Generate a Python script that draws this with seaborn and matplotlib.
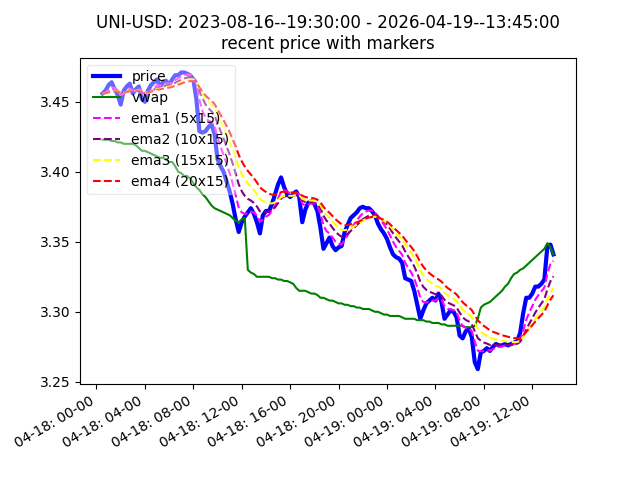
import numpy as np
import pandas as pd
import matplotlib
matplotlib.use("Agg")
import matplotlib.pyplot as plt
import matplotlib.dates as mdates
import seaborn as sns

# 15-minute bars, 04-18 00:30 .. 04-19 13:45
start_time = "2026-04-18 00:30"
n_bars = 150

price = [
    3.456, 3.458, 3.462, 3.464, 3.459, 3.455, 3.448, 3.458, 3.461, 3.463,
    3.456, 3.459, 3.461, 3.452, 3.450, 3.458, 3.462, 3.464, 3.466, 3.461,
    3.464, 3.465, 3.462, 3.466, 3.469, 3.469, 3.471, 3.471, 3.470, 3.469,
    3.466, 3.452, 3.429, 3.428, 3.429, 3.432, 3.434, 3.427, 3.409, 3.404,
    3.400, 3.393, 3.386, 3.377, 3.366, 3.357, 3.364, 3.368, 3.371, 3.374,
    3.370, 3.364, 3.356, 3.369, 3.372, 3.372, 3.377, 3.384, 3.391, 3.396,
    3.389, 3.384, 3.382, 3.384, 3.386, 3.382, 3.364, 3.373, 3.378, 3.379,
    3.377, 3.372, 3.360, 3.345, 3.349, 3.353, 3.347, 3.344, 3.346, 3.347,
    3.357, 3.362, 3.367, 3.369, 3.371, 3.374, 3.375, 3.374, 3.374, 3.372,
    3.369, 3.363, 3.359, 3.356, 3.352, 3.346, 3.341, 3.339, 3.338, 3.335,
    3.324, 3.323, 3.322, 3.315, 3.305, 3.295, 3.301, 3.306, 3.308, 3.310,
    3.308, 3.313, 3.307, 3.295, 3.298, 3.301, 3.300, 3.296, 3.283, 3.281,
    3.286, 3.288, 3.282, 3.264, 3.259, 3.271, 3.272, 3.274, 3.272, 3.275,
    3.277, 3.276, 3.276, 3.277, 3.276, 3.277, 3.278, 3.279, 3.285, 3.299,
    3.310, 3.310, 3.313, 3.318, 3.318, 3.320, 3.323, 3.347, 3.348, 3.341,
]

vwap = [
    3.423, 3.423, 3.423, 3.422, 3.422, 3.421, 3.421, 3.420, 3.420, 3.420, 3.420, 3.419,
    3.417, 3.415, 3.415, 3.414, 3.413, 3.412, 3.411, 3.410, 3.410, 3.409, 3.407, 3.407,
    3.404, 3.400, 3.399, 3.397, 3.397, 3.395, 3.392, 3.389, 3.387, 3.384, 3.382, 3.379,
    3.376, 3.374, 3.373, 3.372, 3.371, 3.370, 3.369, 3.367, 3.365, 3.364, 3.366, 3.367,
    3.330, 3.328, 3.327, 3.325, 3.325, 3.325, 3.325, 3.325, 3.324, 3.324, 3.323, 3.323,
    3.322, 3.322, 3.321, 3.320, 3.317, 3.315, 3.315, 3.315, 3.314, 3.313, 3.313, 3.312,
    3.310, 3.310, 3.309, 3.308, 3.308, 3.307, 3.306, 3.306, 3.305, 3.305, 3.304, 3.304,
    3.303, 3.303, 3.302, 3.302, 3.302, 3.301, 3.300, 3.300, 3.299, 3.298, 3.298, 3.297,
    3.297, 3.297, 3.297, 3.296, 3.295, 3.295, 3.295, 3.295, 3.294, 3.294, 3.294, 3.293,
    3.293, 3.292, 3.292, 3.292, 3.291, 3.291, 3.290, 3.290, 3.290, 3.290, 3.290, 3.290,
    3.289, 3.289, 3.289, 3.290, 3.295, 3.303, 3.305, 3.306, 3.307, 3.309, 3.311, 3.313,
    3.315, 3.318, 3.320, 3.324, 3.327, 3.328, 3.330, 3.331, 3.333, 3.335, 3.337, 3.339,
    3.341, 3.343, 3.345, 3.349, 3.346, 3.341,
]

ema_spans = [5, 10, 15, 20]
ema_colors = ["magenta", "purple", "yellow", "red"]

df = pd.DataFrame({
    "time": pd.date_range(start_time, periods=n_bars, freq="15min"),
    "price": price,
    "vwap": vwap,
})
for i, span in enumerate(ema_spans):
    df[f"ema{i+1}"] = df["price"].ewm(span=span, adjust=False).mean()

fig, ax = plt.subplots(figsize=(6.4, 4.8), dpi=100)

sns.lineplot(data=df, x="time", y="price", ax=ax, color="blue", linewidth=3, label="price")
sns.lineplot(data=df, x="time", y="vwap", ax=ax, color="green", linewidth=1.5, label="vwap")
for i, (span, col) in enumerate(zip(ema_spans, ema_colors)):
    sns.lineplot(data=df, x="time", y=f"ema{i+1}", ax=ax, color=col, linestyle="--",
                 linewidth=1.5, label=f"ema{i+1} ({span}x15)")

ax.set_title("UNI-USD: 2023-08-16--19:30:00 - 2026-04-19--13:45:00\nrecent price with markers")
ax.set_xlabel("")
ax.set_ylabel("")
ax.xaxis.set_major_locator(mdates.HourLocator(byhour=range(0, 24, 4)))
ax.xaxis.set_major_formatter(mdates.DateFormatter("%m-%d: %H-%M"))
ax.legend(loc="upper left", framealpha=0.4)
fig.autofmt_xdate()

plt.savefig("out.png")
